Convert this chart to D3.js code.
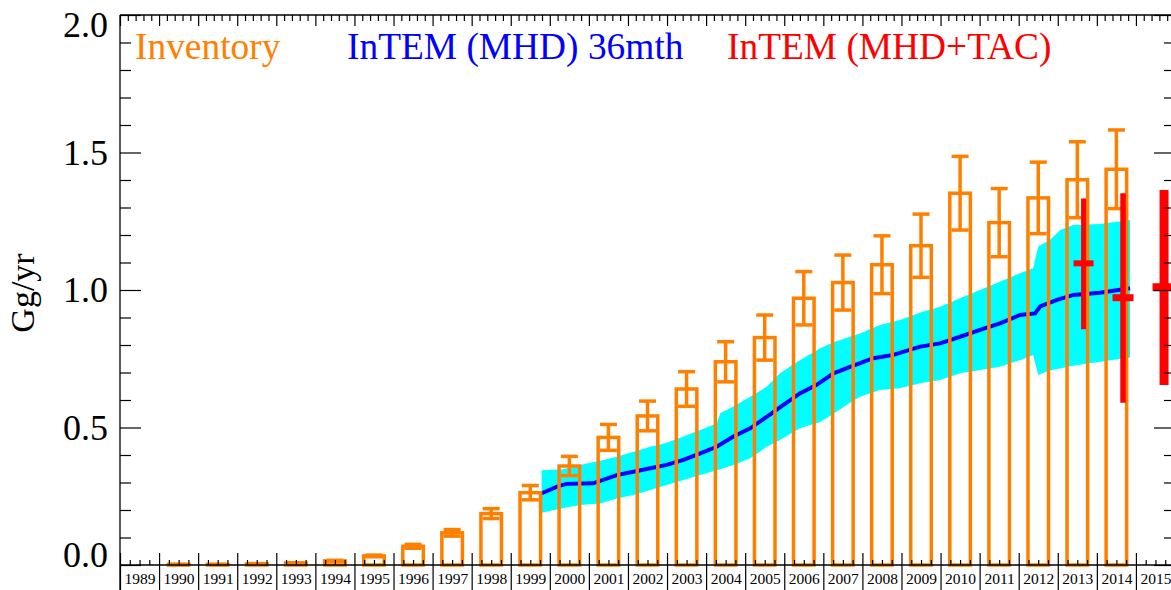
<!DOCTYPE html>
<html><head><meta charset="utf-8">
<script src="https://cdn.jsdelivr.net/npm/d3@7"></script>
<style>
body{margin:0;background:#fff}
svg{display:block}
text{font-family:"Liberation Serif","Times New Roman",serif}
</style>
</head><body>
<svg id="c" width="1171" height="590"></svg>
<script>
// ---------- DATA ----------
const invYears  = [1990,1991,1992,1993,1994,1995,1996,1997,1998,1999,2000,2001,2002,2003,2004,2005,2006,2007,2008,2009,2010,2011,2012,2013,2014];
const invValues = [0.002,0.002,0.004,0.007,0.015,0.033,0.068,0.117,0.187,0.263,0.360,0.464,0.542,0.640,0.739,0.827,0.970,1.027,1.092,1.161,1.352,1.245,1.335,1.401,1.439];
const invErrors = [0.000,0.000,0.001,0.001,0.002,0.003,0.007,0.012,0.018,0.026,0.035,0.047,0.054,0.063,0.073,0.082,0.097,0.100,0.105,0.115,0.134,0.124,0.130,0.138,0.143];

const blueYears  = [1999.79,2000.22,2000.43,2001.11,2001.71,2002.14,2002.57,2002.99,2003.42,2003.85,2004.27,2004.70,2005.13,2005.55,2005.98,2006.40,2006.83,2007.26,2007.77,2008.28,2008.79,2009.48,2009.99,2010.50,2011.01,2011.52,2012.03,2012.42,2012.55,2012.98,2013.40,2014.08,2014.85];
const blueValues = [0.261,0.287,0.295,0.297,0.327,0.339,0.352,0.364,0.382,0.406,0.430,0.467,0.497,0.539,0.582,0.624,0.655,0.697,0.725,0.752,0.764,0.794,0.806,0.830,0.855,0.879,0.909,0.915,0.940,0.964,0.982,0.990,1.006];

const bandYears = [1999.79,2000.35,2000.77,2001.29,2001.71,2002.14,2002.57,2002.99,2003.42,2003.85,2004.27,2004.36,2004.70,2005.13,2005.55,2005.89,2006.40,2006.92,2007.26,2007.68,2007.94,2008.45,2008.96,2009.48,2009.99,2010.50,2011.01,2011.52,2012.03,2012.37,2012.50,2012.80,2013.06,2013.39,2014.08,2014.85];
const bandUpper = [0.345,0.348,0.364,0.379,0.394,0.412,0.430,0.445,0.467,0.491,0.515,0.552,0.576,0.612,0.648,0.697,0.745,0.788,0.810,0.830,0.842,0.873,0.891,0.918,0.939,0.970,1.000,1.030,1.061,1.079,1.158,1.182,1.218,1.236,1.240,1.255];
const bandLower = [0.190,0.207,0.218,0.224,0.242,0.255,0.273,0.291,0.309,0.327,0.345,0.348,0.364,0.388,0.430,0.455,0.497,0.520,0.550,0.590,0.612,0.636,0.643,0.661,0.673,0.697,0.709,0.721,0.745,0.764,0.691,0.708,0.715,0.725,0.739,0.755];

const redYears  = [2013.66,2014.67,2015.72];
const redValues = [1.097,0.972,1.010];
const redLow    = [0.857,0.590,0.655];
const redHigh   = [1.333,1.352,1.364];

const axisYears   = d3.range(1989, 2016);          // year label cells
const yMajorTicks = [0,0.5,1.0,1.5,2.0];
const legendLabels = ["Inventory","InTEM (MHD) 36mth","InTEM (MHD+TAC)"];

// ---------- STYLE ----------
const ORANGE = "#FF8000", CYAN = "#00FFFF", BLUE = "#0000FF", RED = "#FF0000";

const svg = d3.select("#c");
const x = d3.scaleLinear().domain([1989, 2016]).range([120, 1175]);
const y = d3.scaleLinear().domain([0, 2]).range([565, 15]);

// ---------- BAND ----------
const bandData = bandYears.map((t,i)=>({t, lo:bandLower[i], hi:bandUpper[i]}));
svg.append("path").datum(bandData)
  .attr("fill", CYAN)
  .attr("d", d3.area().x(d=>x(d.t)).y0(d=>y(d.lo)).y1(d=>y(d.hi)));

// ---------- BLUE LINE ----------
svg.append("path").datum(blueYears.map((t,i)=>({t, v:blueValues[i]})))
  .attr("fill","none").attr("stroke",BLUE).attr("stroke-width",4)
  .attr("d", d3.line().x(d=>x(d.t)).y(d=>y(d.v)));

// ---------- INVENTORY BARS ----------
const inv = invYears.map((yr,i)=>({yr, v:invValues[i], e:invErrors[i]}));
const gb = svg.append("g").attr("stroke",ORANGE).attr("fill","none").attr("stroke-width",3.5);
gb.selectAll("rect").data(inv).join("rect")
  .attr("x", d=>x(d.yr+0.237))
  .attr("width", d=>x(d.yr+0.763)-x(d.yr+0.237))
  .attr("y", d=>y(d.v))
  .attr("height", d=>Math.max(0.5, y(0)-y(d.v)));
gb.selectAll("line.ev").data(inv).join("line").attr("class","ev")
  .attr("x1", d=>x(d.yr+0.5)).attr("x2", d=>x(d.yr+0.5))
  .attr("y1", d=>y(d.v-d.e)).attr("y2", d=>y(d.v+d.e));
gb.selectAll("line.ct").data(inv).join("line").attr("class","ct")
  .attr("x1", d=>x(d.yr+0.5)-8.5).attr("x2", d=>x(d.yr+0.5)+8.5)
  .attr("y1", d=>y(d.v+d.e)).attr("y2", d=>y(d.v+d.e));
gb.selectAll("line.cb").data(inv).join("line").attr("class","cb")
  .attr("x1", d=>x(d.yr+0.5)-8.5).attr("x2", d=>x(d.yr+0.5)+8.5)
  .attr("y1", d=>y(d.v-d.e)).attr("y2", d=>y(d.v-d.e));

// ---------- RED ESTIMATES ----------
const red = redYears.map((t,i)=>({t, v:redValues[i], lo:redLow[i], hi:redHigh[i], i}));
const vW = [5,5.5,9], hW = [10,10.5,11.5], hT = [6,7,8];
const gr = svg.append("g").attr("stroke",RED);
gr.selectAll("line.rv").data(red).join("line").attr("class","rv")
  .attr("stroke-width", d=>vW[d.i])
  .attr("x1", d=>x(d.t)).attr("x2", d=>x(d.t))
  .attr("y1", d=>y(d.lo)).attr("y2", d=>y(d.hi));
gr.selectAll("line.rh").data(red).join("line").attr("class","rh")
  .attr("stroke-width", d=>hT[d.i])
  .attr("x1", d=>x(d.t)-hW[d.i]).attr("x2", d=>x(d.t)+hW[d.i])
  .attr("y1", d=>y(d.v)).attr("y2", d=>y(d.v));

// ---------- AXES ----------
const axStyle = g => { g.select(".domain").remove(); g.selectAll("line").attr("stroke","#000").attr("stroke-width",1.2); };
const yMinor = d3.range(0, 2.0001, 0.1).filter(v=>Math.abs(v*2-Math.round(v*2))>1e-6);

// left
const gl = svg.append("g").attr("transform","translate(120,0)")
  .call(d3.axisLeft(y).tickValues(yMajorTicks).tickSizeInner(-21).tickSizeOuter(0).tickPadding(12).tickFormat(d3.format(".1f")))
  .call(axStyle);
gl.selectAll("text").attr("font-size",36).attr("fill","#000")
  .attr("font-family",'"Liberation Serif","Times New Roman",serif')
  .attr("dy", d=> d===0 ? "0.05em" : (d===2 ? "0.6em" : "0.33em"));
svg.append("g").attr("transform","translate(120,0)")
  .call(d3.axisLeft(y).tickValues(yMinor).tickSizeInner(-11).tickSizeOuter(0).tickFormat(""))
  .call(axStyle);
// right
svg.append("g").attr("transform","translate(1175,0)")
  .call(d3.axisRight(y).tickValues(yMajorTicks).tickSizeInner(-21).tickSizeOuter(0).tickFormat(""))
  .call(axStyle);
svg.append("g").attr("transform","translate(1175,0)")
  .call(d3.axisRight(y).tickValues(yMinor).tickSizeInner(-11).tickSizeOuter(0).tickFormat(""))
  .call(axStyle);
// top
const yearBounds = d3.range(1989, 2017);
const topMinor = d3.range(1989, 2016).flatMap(a=>[0.2,0.4,0.6,0.8].map(f=>a+f));
svg.append("g").attr("transform","translate(0,15)")
  .call(d3.axisTop(x).tickValues(yearBounds).tickSizeInner(-11).tickSizeOuter(0).tickFormat(""))
  .call(axStyle);
svg.append("g").attr("transform","translate(0,15)")
  .call(d3.axisTop(x).tickValues(topMinor).tickSizeInner(-6).tickSizeOuter(0).tickFormat(""))
  .call(axStyle);
// bottom
const botMinor = d3.range(1989, 2016).flatMap(a=>[0.25,0.5,0.75].map(f=>a+f));
svg.append("g").attr("transform","translate(0,565)")
  .call(d3.axisBottom(x).tickValues(yearBounds).tickSizeInner(-12).tickSizeOuter(0).tickFormat(""))
  .call(axStyle);
svg.append("g").attr("transform","translate(0,565)")
  .call(d3.axisBottom(x).tickValues(botMinor).tickSizeInner(-5).tickSizeOuter(0).tickFormat(""))
  .call(axStyle);
svg.append("g").attr("transform","translate(0,565)")
  .call(d3.axisBottom(x).tickValues(yearBounds).tickSizeInner(25).tickSizeOuter(0).tickFormat(""))
  .call(axStyle);
const gx = svg.append("g").attr("transform","translate(0,565)")
  .call(d3.axisBottom(x).tickValues(axisYears.map(a=>a+0.5)).tickSize(0).tickPadding(8).tickFormat(d=>String(Math.floor(d))))
  .call(axStyle);
gx.selectAll("text").attr("font-size",15.5).attr("fill","#000")
  .attr("font-family",'"Liberation Serif","Times New Roman",serif');

// frame lines
const frame = svg.append("g").attr("stroke","#000").attr("stroke-width",1.3);
frame.append("line").attr("x1",x(1989)).attr("x2",x(1989)).attr("y1",y(2)).attr("y2",590);
frame.append("line").attr("x1",x(1989)).attr("x2",x(2016)).attr("y1",y(2)).attr("y2",y(2));
frame.append("line").attr("x1",x(1989)).attr("x2",x(2016)).attr("y1",y(0)).attr("y2",y(0));
frame.append("line").attr("x1",x(2016)).attr("x2",x(2016)).attr("y1",y(2)).attr("y2",590);

// ---------- LABELS ----------
svg.append("text").attr("transform","translate(33.5,293) rotate(-90)")
  .attr("text-anchor","middle").attr("font-size",34).attr("fill","#000").text("Gg/yr");

const legX = [135, 347, 727];
const legC = [ORANGE, BLUE, RED];
svg.selectAll("text.leg").data(legendLabels).join("text").attr("class","leg")
  .attr("x",(d,i)=>legX[i]).attr("y",59).attr("font-size",37.4)
  .attr("fill",(d,i)=>legC[i]).text(d=>d);
</script>
</body></html>
